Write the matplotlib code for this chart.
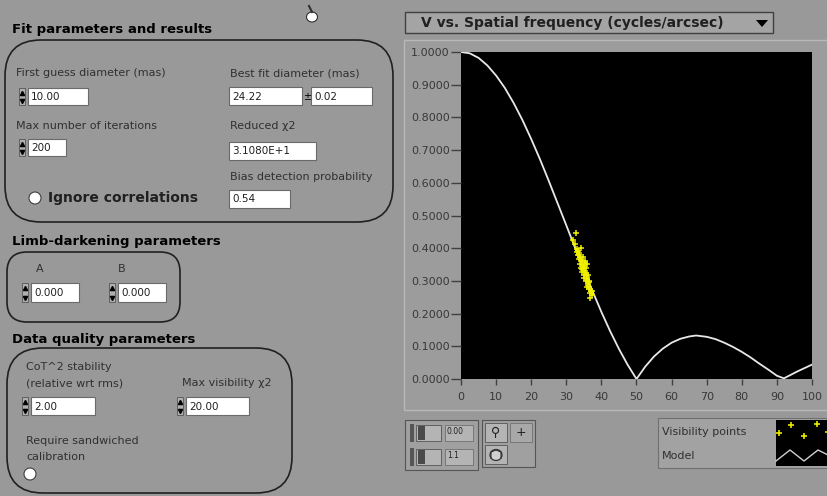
import numpy as np
import matplotlib.pyplot as plt
from matplotlib.patches import FancyBboxPatch, Rectangle, Circle, Polygon, Ellipse

# model visibility curve
model_freq = [0, 2.5, 5, 7.5, 10, 12.5, 15, 17.5, 20, 22.5, 25, 27.5, 30, 32.5, 35, 37.5,
              40, 42.5, 45, 47.5, 50, 52.5, 55, 57.5, 60, 62.5, 65, 67, 70, 72.5, 75,
              77.5, 80, 82.5, 85, 87.5, 90, 92, 94, 96, 98, 100]
model_vis = [1.000, 0.996, 0.982, 0.959, 0.928, 0.890, 0.844, 0.792, 0.734, 0.672, 0.606,
             0.538, 0.470, 0.401, 0.334, 0.268, 0.205, 0.146, 0.092, 0.043, 0.000, 0.038,
             0.069, 0.093, 0.111, 0.123, 0.130, 0.133, 0.129, 0.122, 0.111, 0.098, 0.083,
             0.066, 0.047, 0.029, 0.010, 0.002, 0.013, 0.024, 0.034, 0.044]

# measured visibility points
pt_freq = [32.8, 32.0, 32.4, 33.0, 33.3, 33.6, 33.2, 33.9, 34.1, 34.4, 34.0, 34.7, 35.0,
           34.6, 35.3, 35.6, 35.1, 35.8, 36.0, 35.5, 36.3, 36.1, 36.6, 36.4, 36.9, 36.7,
           37.2, 36.8, 35.9, 34.3, 33.7, 37.4, 36.2, 35.4, 33.5, 34.2, 34.8, 35.2, 35.7,
           36.5, 33.1, 34.5, 35.0, 36.0, 36.6]
pt_vis = [0.447, 0.425, 0.412, 0.398, 0.392, 0.385, 0.378, 0.372, 0.365, 0.360, 0.352,
          0.348, 0.342, 0.336, 0.330, 0.325, 0.318, 0.312, 0.305, 0.300, 0.295, 0.288,
          0.282, 0.275, 0.270, 0.262, 0.258, 0.247, 0.352, 0.402, 0.380, 0.268, 0.318,
          0.362, 0.368, 0.340, 0.372, 0.355, 0.338, 0.296, 0.389, 0.327, 0.308, 0.282,
          0.301]

y_ticks = [0.0, 0.1, 0.2, 0.3, 0.4, 0.5, 0.6, 0.7, 0.8, 0.9, 1.0]
x_ticks = [0, 10, 20, 30, 40, 50, 60, 70, 80, 90, 100]

W, H = 828, 496
BG = '#999999'
TXT = '#303030'

fig = plt.figure(figsize=(W / 100, H / 100), dpi=100, facecolor=BG)

# panel layer in pixel coordinates
bg = fig.add_axes([0, 0, 1, 1], zorder=0)
bg.set_xlim(0, W)
bg.set_ylim(H, 0)
bg.axis('off')


def rbox(x0, y0, x1, y1, r):
    bg.add_patch(FancyBboxPatch((x0 + r, y0 + r), x1 - x0 - 2 * r, y1 - y0 - 2 * r,
                                boxstyle='round,pad=%d' % r, fc='none', ec='#202020', lw=1.2))


def numbox(x0, y0, x1, y1, txt, arrows=True):
    bg.add_patch(Rectangle((x0 + 1, y0 + 1), x1 - x0, y1 - y0, fc='#555555', ec='none'))
    bg.add_patch(Rectangle((x0, y0), x1 - x0, y1 - y0, fc='white', ec='#6a6a6a', lw=0.8))
    bg.text(x0 + 3, (y0 + y1) / 2 + 0.5, txt, fontsize=7.5, color='#202020', va='center')
    if arrows:
        ax_ = x0 - 6
        bg.add_patch(Rectangle((ax_ - 3, y0), 6, y1 - y0, fc='#b0b0b0', ec='#555555', lw=0.6))
        bg.plot([ax_], [y0 + 4.5], marker='^', ms=3, color='black')
        bg.plot([ax_], [y1 - 4.5], marker='v', ms=3, color='black')


def label(x, y, s, **kw):
    kw.setdefault('fontsize', 8)
    kw.setdefault('color', TXT)
    bg.text(x, y, s, va='center', **kw)


# --- Fit parameters and results ---
label(12, 30, 'Fit parameters and results', fontsize=9.5, weight='bold', color='black')
rbox(5, 40, 393, 222, 36)
label(16, 73, 'First guess diameter (mas)')
numbox(28, 88, 88, 105, '10.00')
label(16, 126, 'Max number of iterations')
numbox(28, 139, 66, 156, '200')
label(230, 73, 'Best fit diameter (mas)')
numbox(229, 87, 302, 105, '24.22', arrows=False)
label(307, 97, '±', fontsize=7, color='black', ha='center')
numbox(311, 87, 372, 105, '0.02', arrows=False)
label(230, 126, 'Reduced χ2')
numbox(229, 142, 316, 160, '3.1080E+1', arrows=False)
label(230, 177, 'Bias detection probability')
numbox(229, 190, 290, 208, '0.54', arrows=False)
bg.add_patch(Circle((35, 198), 6, fc='white', ec='#404040', lw=0.8))
label(48, 198, 'Ignore correlations', fontsize=10, weight='bold', color='#202020')

# --- Limb-darkening parameters ---
label(12, 242, 'Limb-darkening parameters', fontsize=9.5, weight='bold', color='black')
rbox(7, 252, 180, 322, 20)
label(36, 269, 'A')
label(118, 269, 'B')
numbox(31, 283, 79, 302, '0.000')
numbox(118, 283, 166, 302, '0.000')

# --- Data quality parameters ---
label(12, 339, 'Data quality parameters', fontsize=9.5, weight='bold', color='black')
rbox(7, 348, 292, 493, 36)
label(26, 367, 'CoT^2 stability')
label(26, 383, '(relative wrt rms)')
numbox(31, 397, 95, 415, '2.00')
label(182, 383, 'Max visibility χ2')
numbox(186, 397, 249, 415, '20.00')
label(26, 441, 'Require sandwiched')
label(26, 457, 'calibration')
bg.add_patch(Circle((30, 474), 6, fc='white', ec='#404040', lw=0.8))

# cursor
bg.add_patch(Ellipse((312, 17), 11, 10, fc='white', ec='#303030', lw=0.8))
bg.plot([309, 312], [6, 12], color='#303030', lw=1.5)

# --- graph frame and selector ---
bg.add_patch(Rectangle((404, 40), 424, 370, fc='#9c9c9c', ec='#b8b8b8', lw=1))
bg.add_patch(Rectangle((405, 12), 368, 21, fc='#a4a4a4', ec='#404040', lw=1))
label(421, 23, 'V vs. Spatial frequency (cycles/arcsec)', fontsize=10, weight='bold',
      color='#202020')
bg.add_patch(Polygon([[756, 20], [768, 20], [762, 27]], closed=True, fc='black'))

# palette boxes
bg.add_patch(Rectangle((405, 420), 73, 50, fc='#a0a0a0', ec='#555555', lw=0.8))
for yy in (424, 448):
    bg.add_patch(Rectangle((410, yy), 4, 18, fc='#555555', ec='none'))
    bg.add_patch(Rectangle((416, yy + 1), 25, 16, fc='#b4b4b4', ec='#555555', lw=0.6))
    bg.add_patch(Rectangle((418, yy + 2), 7, 14, fc='#4a4a4a', ec='none'))
    bg.add_patch(Rectangle((445, yy + 1), 28, 16, fc='#b4b4b4', ec='#707070', lw=0.6))
bg.text(447, 432, '0.00', fontsize=5.5, color='#202020', va='center')
bg.text(447, 456, '1.1', fontsize=5.5, color='#202020', va='center')
bg.add_patch(Rectangle((482, 420), 53, 47, fc='#a0a0a0', ec='#555555', lw=0.8))
bg.add_patch(Rectangle((485, 423), 22, 19, fc='#b4b4b4', ec='#555555', lw=0.6))
bg.add_patch(Rectangle((510, 423), 22, 19, fc='#a8a8a8', ec='#707070', lw=0.6))
bg.add_patch(Rectangle((485, 445), 22, 19, fc='#b4b4b4', ec='#555555', lw=0.6))
bg.text(496, 432, '⚲', fontsize=9, color='#202020', ha='center', va='center')
bg.text(521, 432, '+', fontsize=9, color='#202020', ha='center', va='center')
# hand tool icon
bg.add_patch(Ellipse((496, 455), 12, 11, fc='#d0d0d0', ec='#303030', lw=0.9))
bg.plot([491, 491, 496, 501, 501], [458, 452, 450, 452, 458], color='#303030', lw=0.8)

# legend box
bg.add_patch(Rectangle((658, 418), 170, 50, fc='#a2a2a2', ec='#707070', lw=0.8))
label(662, 432, 'Visibility points')
label(662, 456, 'Model')
bg.add_patch(Rectangle((776, 420), 52, 46, fc='black', ec='none'))
bg.plot([791, 817, 779, 804, 828], [425, 424, 433, 436, 432], '+', color='#e8e800', ms=5,
        mew=1.2)
bg.plot([776, 790, 804, 818, 828], [461, 450, 461, 450, 455], color='#d0d0d0', lw=1)

# --- main chart ---
ax = fig.add_axes([461 / W, 1 - 379 / H, (812 - 461) / W, (379 - 52) / H], zorder=1)
ax.set_facecolor('black')
ax.plot(model_freq, model_vis, color='#e8e8e8', lw=1.3, zorder=2)
ax.plot(pt_freq, pt_vis, '+', color='#f0f000', ms=4, mew=1.1, zorder=3)
ax.set_xlim(0, 100)
ax.set_ylim(0, 1)
ax.set_xticks(x_ticks)
ax.set_yticks(y_ticks)
ax.set_yticklabels(['%.4f' % v for v in y_ticks])
ax.tick_params(axis='both', colors='#404040', labelcolor='#383838', labelsize=8,
               direction='out')
ax.tick_params(axis='y', length=7, width=1, pad=1)
ax.tick_params(axis='x', length=4, width=1, pad=5)
for s in ax.spines.values():
    s.set_visible(False)

fig.savefig('out.png', dpi=100, facecolor=BG)
